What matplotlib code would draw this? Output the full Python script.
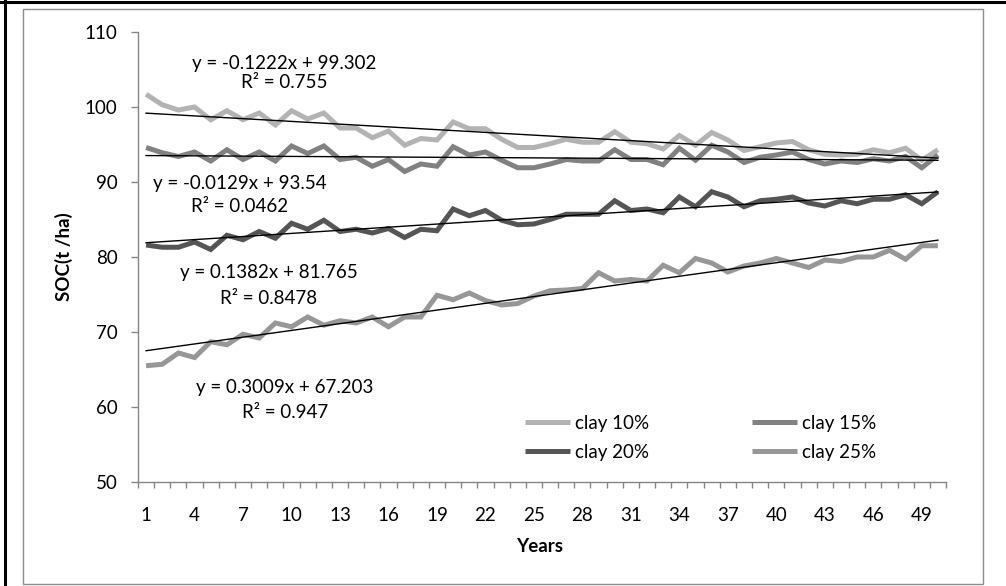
import matplotlib
matplotlib.use("Agg")
import matplotlib.pyplot as plt
from matplotlib.lines import Line2D
from matplotlib.patches import Rectangle
import numpy as np

plt.rcParams['font.family'] = ['Lato', 'DejaVu Sans']

years = list(range(1, 51))

clay10 = [101.7, 100.3, 99.6, 100.0, 98.3, 99.5, 98.3, 99.2, 97.6, 99.5,
          98.4, 99.2, 97.2, 97.2, 95.9, 96.8, 94.9, 95.8, 95.6, 98.0,
          97.1, 97.1, 95.7, 94.6, 94.6, 95.1, 95.7, 95.3, 95.3, 96.7,
          95.3, 95.1, 94.4, 96.2, 94.9, 96.6, 95.6, 94.2, 94.7, 95.2,
          95.4, 94.3, 93.7, 93.6, 93.7, 94.3, 93.9, 94.5, 92.9, 94.3]
clay15 = [94.6, 93.9, 93.4, 94.0, 92.8, 94.3, 93.0, 94.0, 92.8, 94.8,
          93.8, 94.8, 93.0, 93.3, 92.1, 93.0, 91.4, 92.4, 92.1, 94.7,
          93.6, 94.0, 92.9, 91.9, 91.9, 92.4, 93.0, 92.8, 92.8, 94.3,
          93.0, 93.0, 92.3, 94.5, 92.9, 94.9, 94.0, 92.6, 93.3, 93.6,
          94.0, 93.0, 92.4, 92.8, 92.6, 93.1, 92.8, 93.4, 91.9, 93.6]
clay20 = [81.6, 81.3, 81.3, 82.0, 81.0, 82.9, 82.3, 83.4, 82.5, 84.5,
          83.7, 84.9, 83.4, 83.7, 83.2, 83.8, 82.6, 83.7, 83.5, 86.4,
          85.5, 86.2, 84.9, 84.3, 84.4, 85.0, 85.7, 85.7, 85.7, 87.5,
          86.2, 86.4, 85.9, 88.0, 86.7, 88.7, 88.0, 86.7, 87.5, 87.7,
          88.0, 87.2, 86.8, 87.5, 87.1, 87.7, 87.7, 88.3, 87.1, 88.7]
clay25 = [65.5, 65.7, 67.2, 66.6, 68.7, 68.3, 69.7, 69.2, 71.2, 70.7,
          72.0, 70.9, 71.5, 71.2, 72.0, 70.7, 72.0, 72.0, 74.9, 74.3,
          75.2, 74.2, 73.6, 73.8, 74.8, 75.5, 75.6, 75.8, 77.9, 76.8,
          77.0, 76.8, 78.9, 77.9, 79.8, 79.2, 78.0, 78.8, 79.2, 79.8,
          79.2, 78.6, 79.6, 79.4, 80.0, 80.0, 80.9, 79.7, 81.5, 81.5]

series_names = ['clay 10%', 'clay 15%', 'clay 20%', 'clay 25%']
series_values = [clay10, clay15, clay20, clay25]
series_colors = ['#b3b3b3', '#818181', '#555555', '#979797']

# linear trend coefficients (slope, intercept, R²)
trend_slopes = [-0.1222, -0.0129, 0.1382, 0.3009]
trend_intercepts = [99.302, 93.54, 81.765, 67.203]
trend_r2 = ['0.755', '0.0462', '0.8478', '0.947']

x_tick_labels = [str(v) for v in range(1, 50, 3)]
y_ticks = [50, 60, 70, 80, 90, 100, 110]

FS = 13.5
W, H = 1006, 586
fig = plt.figure(figsize=(W / 100, H / 100), dpi=100)
fig.patch.set_facecolor('white')


def fx(px):
    return px / W


def fy(py):
    return 1 - py / H


# outer frames
fig.add_artist(Rectangle((fx(22.7), fy(584)), fx(983) - fx(22.7), fy(9.3) - fy(584),
                         transform=fig.transFigure, fill=False,
                         edgecolor='#8c8c8c', linewidth=1.0))
fig.add_artist(Line2D([fx(5), fx(5)], [0, 1], transform=fig.transFigure,
                      color='black', linewidth=2.2))
fig.add_artist(Line2D([0, 1], [fy(1.5), fy(1.5)], transform=fig.transFigure,
                      color='black', linewidth=2.2))

ax = fig.add_axes([fx(138), fy(482), fx(946) - fx(138), fy(32) - fy(482)])

x = np.array(years)
for name, vals, col in zip(series_names, series_values, series_colors):
    ax.plot(x, vals, color=col, linewidth=3.6, label=name,
            solid_joinstyle='miter', solid_capstyle='butt')

for m, b in zip(trend_slopes, trend_intercepts):
    xs = np.array([x[0], x[-1]])
    ax.plot(xs, m * xs + b, color='black', linewidth=1.0)

ax.set_xlim(0.5, 50.5)
ax.set_ylim(50, 110)
ax.set_yticks(y_ticks)
ax.set_xticks(range(1, 50, 3))
ax.set_xticklabels(x_tick_labels)
ax.set_xticks(np.arange(0.5, 51, 1.0), minor=True)

for s in ['top', 'right']:
    ax.spines[s].set_visible(False)
for s in ['left', 'bottom']:
    ax.spines[s].set_color('#868686')
    ax.spines[s].set_linewidth(1.0)

ax.tick_params(axis='y', direction='out', length=4.8, width=1.0, color='#868686',
               labelsize=FS, pad=10.0, labelcolor='black')
ax.tick_params(axis='x', which='major', length=0, labelsize=FS, pad=18,
               labelcolor='black')
ax.tick_params(axis='x', which='minor', direction='out', length=4.3, width=1.0,
               color='#868686')

fig.text(fx(64), fy(257), 'SOC(t /ha)', rotation=90, ha='center', va='center',
         fontsize=FS, fontweight='bold')
fig.text(fx(540), fy(547), 'Years', ha='center', va='center',
         fontsize=FS, fontweight='bold')

# trendline equation labels
label_pos = [(284, 63, 83), (240, 183, 207), (269, 273, 298), (285, 387, 412)]
for (cx, y1, y2), m, b, r2 in zip(label_pos, trend_slopes, trend_intercepts, trend_r2):
    eq = f'y = {m:g}x + {b:g}'
    fig.text(fx(cx), fy(y1), eq, ha='center', va='center', fontsize=FS)
    fig.text(fx(cx), fy(y2), f'R² = {r2}', ha='center', va='center', fontsize=FS)

handles, labels = ax.get_legend_handles_labels()
order = [0, 2, 1, 3]
leg = fig.legend([handles[i] for i in order], [labels[i] for i in order],
                 ncol=2, loc='upper left', bbox_to_anchor=(fx(525), fy(415)),
                 bbox_transform=fig.transFigure, frameon=False, fontsize=FS,
                 handlelength=2.4, handletextpad=0.25, columnspacing=5.5,
                 labelspacing=0.62, borderpad=0, borderaxespad=0)

fig.savefig('out.png', dpi=100, facecolor='white')
